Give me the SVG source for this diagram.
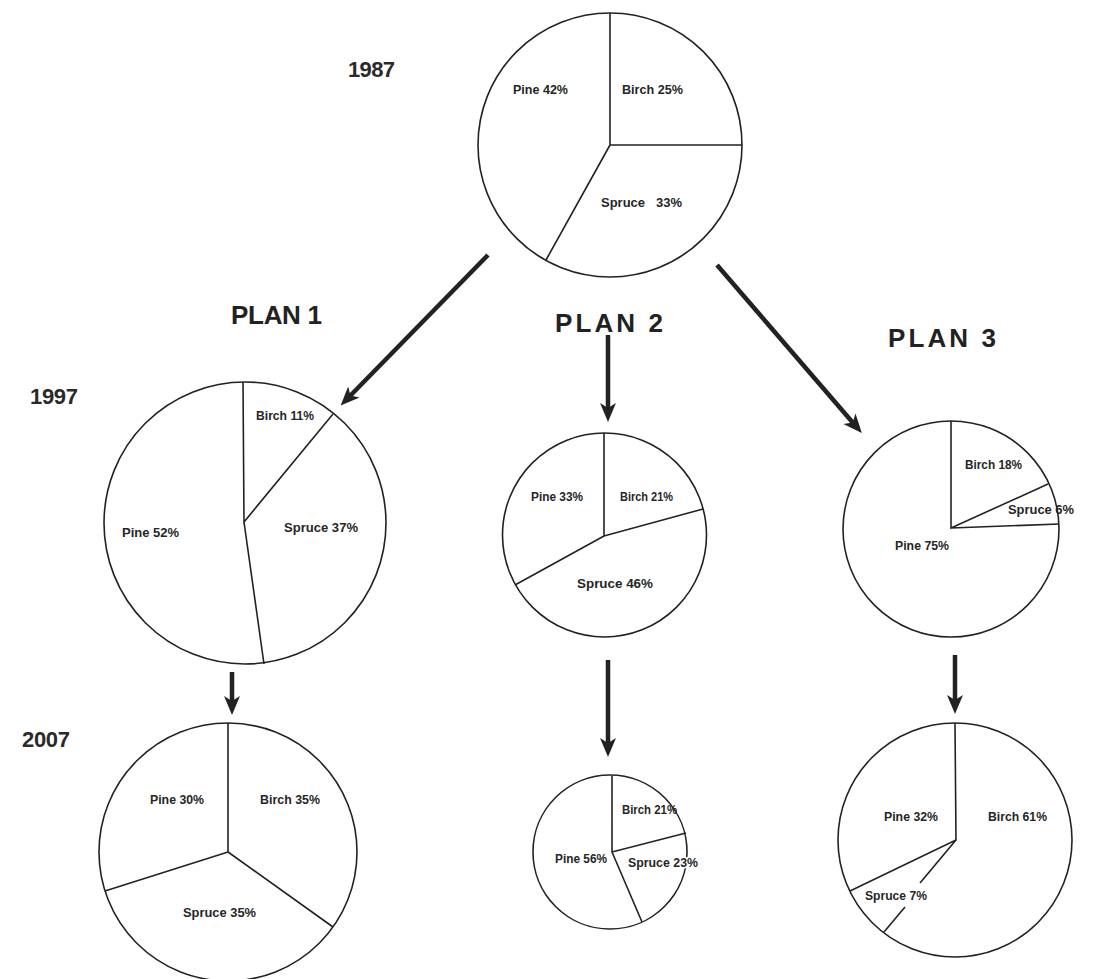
<svg xmlns="http://www.w3.org/2000/svg" width="1095" height="979" viewBox="0 0 1095 979">
<style>
.pie{fill:none;stroke:#222;stroke-width:1.6}
.sp{stroke:#222;stroke-width:1.6;fill:none}
.lbl{font-family:"Liberation Sans",Arial,sans-serif;font-size:12.5px;font-weight:bold;fill:#262626}
.yr{font-family:"Liberation Sans",Arial,sans-serif;font-size:22px;font-weight:bold;fill:#2a2a2a}
.plan{font-family:"Liberation Sans",Arial,sans-serif;font-size:26px;font-weight:bold;fill:#222}
.arr{stroke:#222;stroke-width:4.5;fill:none;marker-end:url(#ah)}
.halo{paint-order:stroke;stroke:#fff;stroke-width:3}
</style>
<defs>
<marker id="ah" markerUnits="userSpaceOnUse" markerWidth="20" markerHeight="18" refX="7" refY="9" orient="auto">
<path d="M0,1 L19,9 L0,17 L5,9 z" fill="#222"/>
</marker>
</defs>
<rect width="1095" height="979" fill="#fff"/>

<g id="titles">
<text class="yr" x="348" y="77" textLength="47">1987</text>
<text class="yr" x="30" y="404" textLength="48">1997</text>
<text class="yr" x="22" y="747" textLength="48">2007</text>
<text class="plan" x="231" y="324" textLength="91">PLAN 1</text>
<text class="plan" x="555" y="332" textLength="108">PLAN 2</text>
<text class="plan" x="888" y="347" textLength="108">PLAN 3</text>
</g>

<g id="pie-1987">
<circle class="pie" cx="610" cy="145" r="132"/>
<path class="sp" d="M610,13 L610,145 L742,145 M610,145 L546,260"/>
<text class="lbl" x="513" y="94" textLength="55" lengthAdjust="spacingAndGlyphs">Pine 42%</text>
<text class="lbl" x="622" y="94" textLength="61" lengthAdjust="spacingAndGlyphs">Birch 25%</text>
<text class="lbl" x="601" y="207" textLength="44" lengthAdjust="spacingAndGlyphs">Spruce</text>
<text class="lbl" x="656" y="207" textLength="26" lengthAdjust="spacingAndGlyphs">33%</text>
</g>

<g id="pie-plan1-1997">
<circle class="pie" cx="245" cy="523" r="141"/>
<path class="sp" d="M243,382 L244,522 L333,414 M244,522 L264,664"/>
<text class="lbl" x="256" y="420" textLength="58" lengthAdjust="spacingAndGlyphs">Birch 11%</text>
<text class="lbl" x="284" y="532" textLength="74" lengthAdjust="spacingAndGlyphs">Spruce 37%</text>
<text class="lbl" x="122" y="537" textLength="57" lengthAdjust="spacingAndGlyphs">Pine 52%</text>
</g>

<g id="pie-plan2-1997">
<circle class="pie" cx="604.5" cy="535" r="102"/>
<path class="sp" d="M604,433 L604,536 L703,509 M604,536 L515,585"/>
<text class="lbl" x="531" y="501" textLength="52" lengthAdjust="spacingAndGlyphs">Pine 33%</text>
<text class="lbl" x="620" y="501" textLength="53" lengthAdjust="spacingAndGlyphs">Birch 21%</text>
<text class="lbl" x="577" y="588" textLength="76" lengthAdjust="spacingAndGlyphs">Spruce 46%</text>
</g>

<g id="pie-plan3-1997">
<circle class="pie" cx="951" cy="529" r="108"/>
<path class="sp" d="M951,421 L951,528 L1048,484 M951,528 L1059,524"/>
<text class="lbl" x="965" y="469" textLength="57" lengthAdjust="spacingAndGlyphs">Birch 18%</text>
<text class="lbl" x="1008" y="514" textLength="66" lengthAdjust="spacingAndGlyphs">Spruce 6%</text>
<text class="lbl" x="895" y="550" textLength="54" lengthAdjust="spacingAndGlyphs">Pine 75%</text>
</g>

<g id="pie-plan1-2007">
<circle class="pie" cx="228" cy="852" r="129"/>
<path class="sp" d="M228,723 L228,852 L333,927 M228,852 L105,891"/>
<text class="lbl" x="150" y="804" textLength="54" lengthAdjust="spacingAndGlyphs">Pine 30%</text>
<text class="lbl" x="260" y="804" textLength="60" lengthAdjust="spacingAndGlyphs">Birch 35%</text>
<text class="lbl" x="183" y="917" textLength="73" lengthAdjust="spacingAndGlyphs">Spruce 35%</text>
</g>

<g id="pie-plan2-2007">
<circle class="pie" cx="610" cy="852" r="77"/>
<path class="sp" d="M612,776 L612,852 L686,833 M612,852 L642,922"/>
<text class="lbl" x="622" y="814" textLength="55" lengthAdjust="spacingAndGlyphs">Birch 21%</text>
<text class="lbl halo" x="628" y="867" textLength="70" lengthAdjust="spacingAndGlyphs">Spruce 23%</text>
<text class="lbl" x="555" y="863" textLength="52" lengthAdjust="spacingAndGlyphs">Pine 56%</text>
</g>

<g id="pie-plan3-2007">
<circle class="pie" cx="955" cy="840" r="117"/>
<path class="sp" d="M955,723 L956,840 L850,891 M956,840 L920,883 M905,907 L884,932"/>
<text class="lbl" x="884" y="821" textLength="54" lengthAdjust="spacingAndGlyphs">Pine 32%</text>
<text class="lbl" x="988" y="821" textLength="59" lengthAdjust="spacingAndGlyphs">Birch 61%</text>
<text class="lbl" x="865" y="900" textLength="62" lengthAdjust="spacingAndGlyphs">Spruce 7%</text>
</g>

<g id="connectors">
<line class="arr" x1="488" y1="255" x2="349" y2="397"/>
<line class="arr" x1="608" y1="335" x2="608" y2="410"/>
<line class="arr" x1="717" y1="265" x2="854" y2="424"/>
<line class="arr" x1="232" y1="672" x2="232" y2="703"/>
<line class="arr" x1="608" y1="660" x2="608" y2="745"/>
<line class="arr" x1="955" y1="655" x2="955" y2="702"/>
</g>
</svg>
